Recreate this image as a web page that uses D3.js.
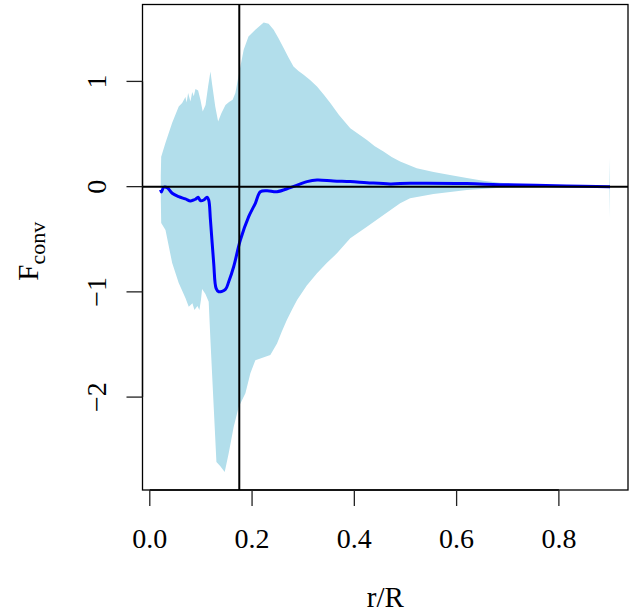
<!DOCTYPE html>
<html>
<head>
<meta charset="utf-8">
<script src="https://cdn.jsdelivr.net/npm/d3@7"></script>
<style>
  body { margin: 0; background: #fff; }
  text { font-family: "Liberation Serif", "DejaVu Serif", serif; fill: #000; }
</style>
</head>
<body>
<div id="chart"></div>
<script>
// upper edge of the shaded band (r/R, F)
var upperX = [0.0215, 0.0223, 0.0307, 0.0438, 0.0566, 0.0633, 0.0697, 0.072, 0.075, 0.0795, 0.083, 0.086, 0.0893, 0.0945,
  0.099, 0.1035, 0.109, 0.114, 0.1186, 0.122, 0.128, 0.1336, 0.140, 0.148, 0.155, 0.162, 0.1674, 0.1727, 0.1836, 0.193,
  0.2064, 0.2227, 0.2324, 0.2422, 0.2517, 0.2617, 0.271, 0.281, 0.2908, 0.3008, 0.314, 0.327, 0.340, 0.353, 0.370, 0.392,
  0.408, 0.4246, 0.44, 0.457, 0.473, 0.4896, 0.522, 0.555, 0.587, 0.62, 0.652, 0.685, 0.7176, 0.7826, 0.896, 0.899, 0.9]
var upperY = [0.10, 0.285, 0.416, 0.606, 0.761, 0.796, 0.853, 0.80, 0.889, 0.809, 0.90, 0.86, 0.927, 0.913,
  0.825, 0.714, 0.777, 0.951, 1.094, 0.968, 0.761, 0.618, 0.698, 0.777, 0.805, 0.825, 0.889, 1.031, 1.30, 1.427,
  1.491, 1.56, 1.548, 1.491, 1.41, 1.317, 1.23, 1.142, 1.10, 1.063, 1.01, 0.951, 0.875, 0.794, 0.68, 0.556,
  0.50, 0.444, 0.385, 0.333, 0.282, 0.238, 0.175, 0.14, 0.111, 0.082, 0.057, 0.038, 0.023, 0.0095, 0.007, 0.007, 0.285]
// lower edge of the shaded band
var lowerX = [0.0215, 0.0223, 0.0307, 0.0438, 0.0566, 0.0697, 0.0762, 0.0834, 0.0873, 0.0932, 0.097, 0.100, 0.1023,
  0.1088, 0.1152, 0.1186, 0.125, 0.1303, 0.138, 0.1465, 0.1543, 0.164, 0.1738, 0.187, 0.1967, 0.2064, 0.2162,
  0.2357, 0.2488, 0.258, 0.268, 0.278, 0.288, 0.307, 0.327, 0.346, 0.366, 0.392, 0.4246, 0.457, 0.4896, 0.509,
  0.5547, 0.62, 0.685, 0.896, 0.899, 0.9]
var lowerY = [-0.10, -0.345, -0.412, -0.726, -0.916, -1.059, -1.142, -1.107, -1.173, -1.135, -1.173, -1.078, -0.973,
  -1.021, -1.094, -1.459, -2.093, -2.617, -2.657, -2.712, -2.534, -2.284, -2.093, -1.963, -1.773, -1.649, -1.633,
  -1.601, -1.49, -1.38, -1.268, -1.17, -1.078, -0.94, -0.824, -0.725, -0.634, -0.491, -0.381, -0.269, -0.158, -0.110,
  -0.069, -0.031, -0.0095, -0.003, -0.003, -0.30]
// mean curve (blue)
var meanX = [0.0209, 0.0228, 0.0273, 0.034, 0.0438, 0.0566, 0.0697, 0.0795, 0.0854, 0.0893, 0.0945, 0.099, 0.1055,
  0.112, 0.1152, 0.1186, 0.125, 0.1297, 0.1348, 0.1479, 0.1543, 0.164, 0.1771, 0.1934, 0.2064, 0.2162, 0.2293,
  0.2488, 0.2748, 0.3074, 0.327, 0.359, 0.392, 0.4246, 0.47, 0.509, 0.62, 0.685, 0.815, 0.9]
var meanY = [-0.031, -0.05, -0.006, -0.01, -0.063, -0.095, -0.117, -0.136, -0.127, -0.12, -0.101, -0.133, -0.127,
  -0.101, -0.127, -0.317, -0.729, -0.967, -0.999, -0.976, -0.904, -0.761, -0.507, -0.285, -0.158, -0.048, -0.038,
  -0.048, -0.0095, 0.048, 0.064, 0.054, 0.048, 0.038, 0.026, 0.032, 0.029, 0.019, 0.007, 0.0]

var xTicks = [0, 0.2, 0.4, 0.6, 0.8]
var yTicks = [-2, -1, 0, 1]
var rLine = 0.175

var svgw = 641
var svgh = 613
var box = {left: 142.5, right: 628, top: 4.5, bottom: 490}

var svg = d3.select('#chart').append('svg')
  .attr('width', svgw)
  .attr('height', svgh)

// R style: data range padded by 4% on each side
function rRange(vals){
  var e = d3.extent(vals)
  var p = (e[1] - e[0]) * 0.04
  return [e[0] - p, e[1] + p]
}
var x = d3.scaleLinear()
  .domain(rRange(upperX.concat(lowerX, meanX)))
  .range([box.left, box.right])
var y = d3.scaleLinear()
  .domain(rRange(upperY.concat(lowerY, meanY)))
  .range([box.bottom, box.top])

// band polygon: upper edge left->right, lower edge right->left
var band = []
for (var i = 0; i < upperX.length; i++) band.push([upperX[i], upperY[i]])
for (var j = lowerX.length - 1; j >= 0; j--) band.push([lowerX[j], lowerY[j]])

var line = d3.line()
  .x(function(d){ return x(d[0]) })
  .y(function(d){ return y(d[1]) })

svg.append('path')
  .attr('d', line(band) + 'Z')
  .attr('fill', '#b2deeb')
  .attr('stroke', 'none')

var mean = meanX.map(function(v, i){ return [v, meanY[i]] })
svg.append('path')
  .attr('d', line.curve(d3.curveCatmullRom.alpha(0.5))(mean))
  .attr('fill', 'none')
  .attr('stroke', '#0000ff')
  .attr('stroke-width', 3)
  .attr('stroke-linejoin', 'round')

// reference lines
svg.append('line')
  .attr('x1', box.left).attr('x2', box.right)
  .attr('y1', y(0)).attr('y2', y(0))
  .attr('stroke', '#000').attr('stroke-width', 2)
svg.append('line')
  .attr('x1', x(rLine)).attr('x2', x(rLine))
  .attr('y1', box.top).attr('y2', box.bottom)
  .attr('stroke', '#000').attr('stroke-width', 2)

// frame
svg.append('rect')
  .attr('x', box.left).attr('y', box.top)
  .attr('width', box.right - box.left).attr('height', box.bottom - box.top)
  .attr('fill', 'none').attr('stroke', '#000').attr('stroke-width', 1.3)

// axes
var fmtX = d3.format('.1f')
var xa = svg.append('g').attr('transform', 'translate(0,' + box.bottom + ')')
xa.append('line')
  .attr('x1', x(xTicks[0])).attr('x2', x(xTicks[xTicks.length - 1]))
  .attr('stroke', '#000').attr('stroke-width', 1.3)
xa.selectAll('.tick').data(xTicks).enter().append('line')
  .attr('x1', function(d){ return x(d) }).attr('x2', function(d){ return x(d) })
  .attr('y1', 0).attr('y2', 16)
  .attr('stroke', '#222').attr('stroke-width', 1.3)
xa.selectAll('.lab').data(xTicks).enter().append('text')
  .attr('x', function(d){ return x(d) })
  .attr('y', 58)
  .attr('text-anchor', 'middle')
  .style('font-size', '28px')
  .text(function(d){ return fmtX(d) })

var fmtY = d3.format('d')
var ya = svg.append('g').attr('transform', 'translate(' + box.left + ',0)')
ya.append('line')
  .attr('y1', y(yTicks[0])).attr('y2', y(yTicks[yTicks.length - 1]))
  .attr('stroke', '#000').attr('stroke-width', 1.3)
ya.selectAll('.tick').data(yTicks).enter().append('line')
  .attr('y1', function(d){ return y(d) }).attr('y2', function(d){ return y(d) })
  .attr('x1', 0).attr('x2', -16)
  .attr('stroke', '#222').attr('stroke-width', 1.3)
ya.selectAll('.lab').data(yTicks).enter().append('text')
  .attr('transform', function(d){ return 'translate(-37,' + y(d) + ') rotate(-90)' })
  .attr('text-anchor', 'middle')
  .style('font-size', '28px')
  .text(function(d){ return fmtY(d) })

// titles
svg.append('text')
  .attr('x', (box.left + box.right) / 2)
  .attr('y', 607)
  .attr('text-anchor', 'middle')
  .style('font-size', '29px')
  .text('r/R')

var yl = svg.append('text')
  .attr('transform', 'translate(38,' + ((box.top + box.bottom) / 2 + 4) + ') rotate(-90)')
  .attr('text-anchor', 'middle')
  .style('font-size', '29px')
yl.append('tspan').text('F')
yl.append('tspan').attr('dy', 7).style('font-size', '22px').text('conv')
</script>
</body>
</html>
